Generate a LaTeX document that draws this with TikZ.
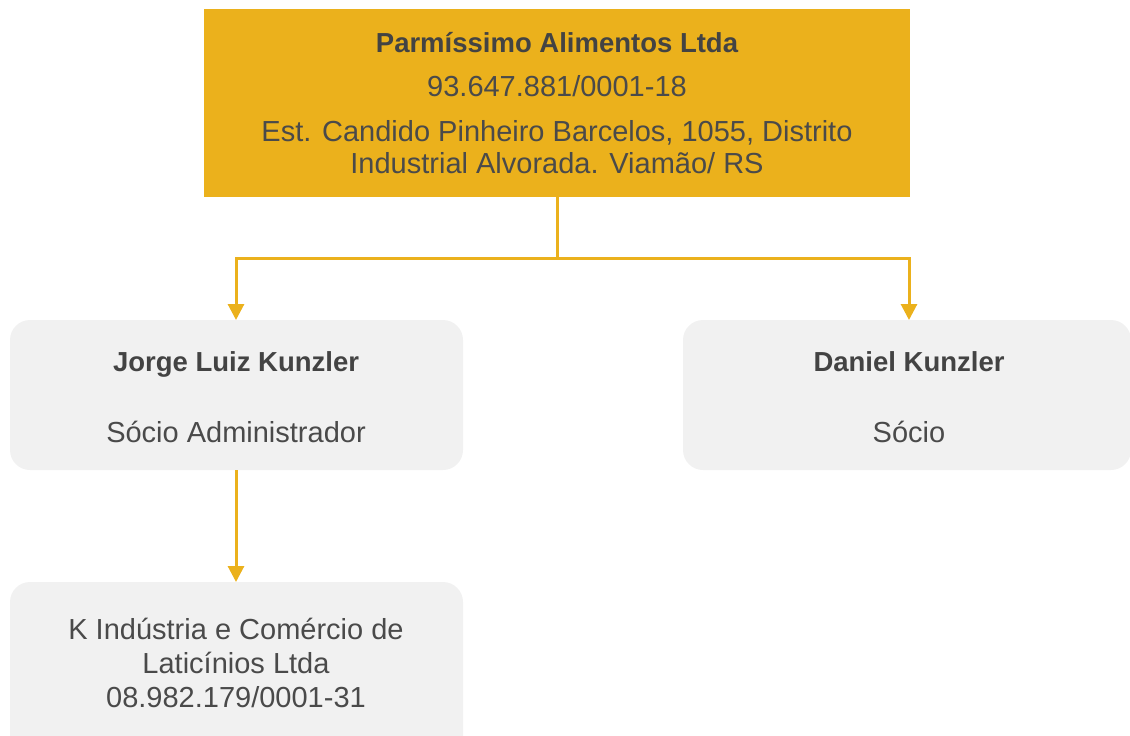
\documentclass[tikz,border=0pt]{standalone}
\usepackage{fontspec}
\setmainfont{Liberation Sans}
\usetikzlibrary{arrows.meta}
\definecolor{gold}{HTML}{EBB11C}
\definecolor{boxgray}{HTML}{F1F1F1}
\definecolor{txt}{HTML}{4A4A4A}
\definecolor{txtb}{HTML}{434343}
\tikzset{
  goldbox/.style={fill=gold, draw=none},
  graybox/.style={fill=boxgray, draw=none, rounded corners=20pt},
  conn/.style={draw=gold, line width=3pt},
  arr/.style={conn, -{Triangle[width=16pt,length=16pt]}},
  reg/.style={text=txt, font=\fontsize{29}{34}\selectfont, anchor=base, inner sep=0pt},
  bld/.style={text=txtb, font=\fontsize{27.5}{33}\selectfont\bfseries, anchor=base, inner sep=0pt},
}
\begin{document}
\begin{tikzpicture}[x=1pt,y=-1pt]
\useasboundingbox (0,0) rectangle (1130,736);
\clip (0,0) rectangle (1130,736);
% boxes
\path[goldbox] (204,9) rectangle (910,197);
\coordinate (topS) at (557,197);
\path[graybox] (10,320) rectangle (463,470);
\coordinate (leftN) at (236,320);
\coordinate (leftS) at (236,470);
\path[graybox] (683,320) rectangle (1131,470);
\coordinate (rightN) at (909,320);
\path[graybox] (10,582) rectangle (463,770);
\coordinate (botN) at (236,582);
% texts
\node[bld] (t1) at (557,52) {Parmíssimo Alimentos Ltda};
\node[reg] (t2) at (557,96) {93.647.881/0001-18};
\node[reg] (t3) at (557,141) {Est. Candido Pinheiro Barcelos, 1055, Distrito};
\node[reg] (t4) at (557,173) {Industrial Alvorada. Viamão/ RS};
\node[bld] (l1) at (236,371) {Jorge Luiz Kunzler};
\node[reg] (l2) at (236,442) {Sócio Administrador};
\node[bld] (r1) at (909,371) {Daniel Kunzler};
\node[reg] (r2) at (909,442) {Sócio};
\node[reg] (b1) at (236,639) {K Indústria e Comércio de};
\node[reg] (b2) at (236,673) {Laticínios Ltda};
\node[reg] (b3) at (236,707) {08.982.179/0001-31};
% connectors
\coordinate (junc) at (557,258);
\draw[conn] (topS) -- (junc);
\draw[arr] (junc) -| (leftN);
\draw[arr] (junc) -| (rightN);
\draw[arr] (leftS) -- (botN);
\end{tikzpicture}
\end{document}
